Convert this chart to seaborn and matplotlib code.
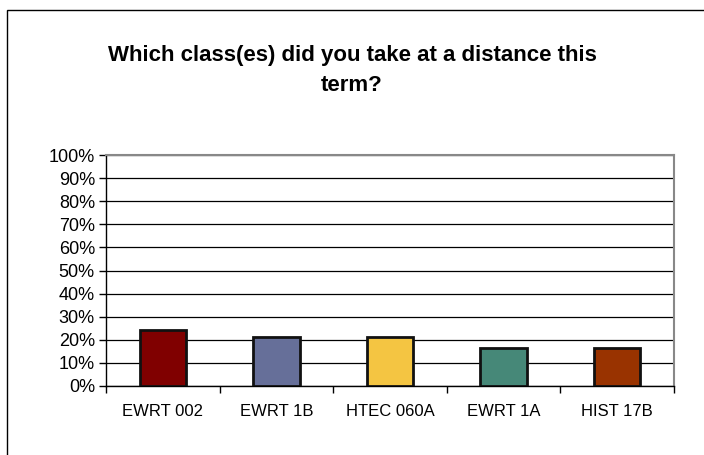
import matplotlib
matplotlib.use("Agg")
import matplotlib.pyplot as plt
import seaborn as sns
import pandas as pd
from matplotlib.patches import Rectangle
from matplotlib.ticker import MultipleLocator, PercentFormatter

categories = ["EWRT 002", "EWRT 1B", "HTEC 060A", "EWRT 1A", "HIST 17B"]
values = [24.2, 21.2, 21.2, 16.5, 16.5]
colors = ["#800000", "#666f99", "#f4c542", "#468878", "#993300"]
title = "Which class(es) did you take at a distance this\nterm?"

sns.set_theme(style="white")
plt.rcParams["font.family"] = ["Liberation Sans", "DejaVu Sans"]

W, H = 704, 455
fig = plt.figure(figsize=(W / 100, H / 100), dpi=100)
ax = fig.add_axes([106 / W, 1 - 386 / H, (674 - 106) / W, (386 - 155) / H])

df = pd.DataFrame({"cat": categories, "val": values})
sns.barplot(data=df, x="cat", y="val", hue="cat", palette=colors, legend=False,
            saturation=1, width=0.41, edgecolor="#111111", linewidth=2, ax=ax, zorder=3)

ax.set_ylim(0, 100)
ax.set_xlim(-0.5, len(categories) - 0.5)
ax.yaxis.set_major_locator(MultipleLocator(10))
ax.yaxis.set_major_formatter(PercentFormatter(decimals=0))
ax.grid(axis="y", color="black", linewidth=0.9, zorder=0)
ax.set_axisbelow(True)
ax.set_xlabel("")
ax.set_ylabel("")

# category boundary ticks
ax.set_xticks(range(len(categories)))
ax.set_xticklabels(categories, fontsize=12, color="black")
ax.set_xticks([i + 0.5 for i in range(-1, len(categories))], minor=True)
ax.tick_params(axis="x", which="major", length=0, pad=13)
ax.tick_params(axis="x", which="minor", length=5, width=1, color="black", direction="out", bottom=True)
ax.tick_params(axis="y", length=5, width=1, color="black", direction="out", left=True, labelsize=13, pad=3)
for t in ax.get_yticklabels():
    t.set_color("black")

for s in ["left", "bottom"]:
    ax.spines[s].set_color("black")
    ax.spines[s].set_linewidth(1.0)
for s in ["top", "right"]:
    ax.spines[s].set_visible(True)
    ax.spines[s].set_color("#888888")
    ax.spines[s].set_linewidth(1.5)

fig.text(0.5, 1 - 70.5 / H, title, ha="center", va="center", fontsize=16,
         fontweight="bold", linespacing=1.55, color="black")

# outer chart border
fig.patches.append(Rectangle((7 / W, -0.1), 1.2, 1.1 - 10 / H, transform=fig.transFigure,
                             fill=False, edgecolor="black", linewidth=1.0, zorder=10))

fig.savefig("out.png", dpi=100)
